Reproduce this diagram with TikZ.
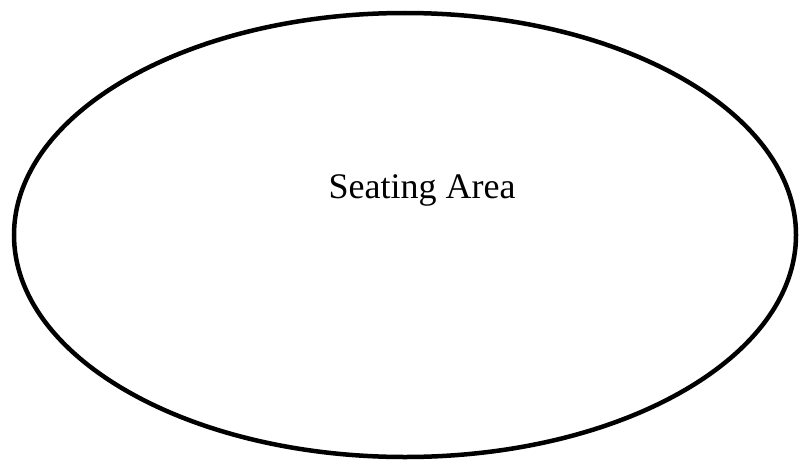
\documentclass[tikz,border=0pt]{standalone}
\usepackage{fontspec}
\setmainfont{Liberation Serif}
\begin{document}
\begin{tikzpicture}[x=1pt,y=-1pt]
            \def\cx{405}
            \def\cy{235}
            \useasboundingbox (0,0) rectangle (799,460);
            \draw[line width=4.5pt] (\cx,\cy) ellipse (391pt and 222pt);
            \node[anchor=base,inner sep=0pt,font=\fontsize{36}{40}\selectfont]
                (seating) at (422,198) {Seating Area};
            \end{tikzpicture}
\end{document}
